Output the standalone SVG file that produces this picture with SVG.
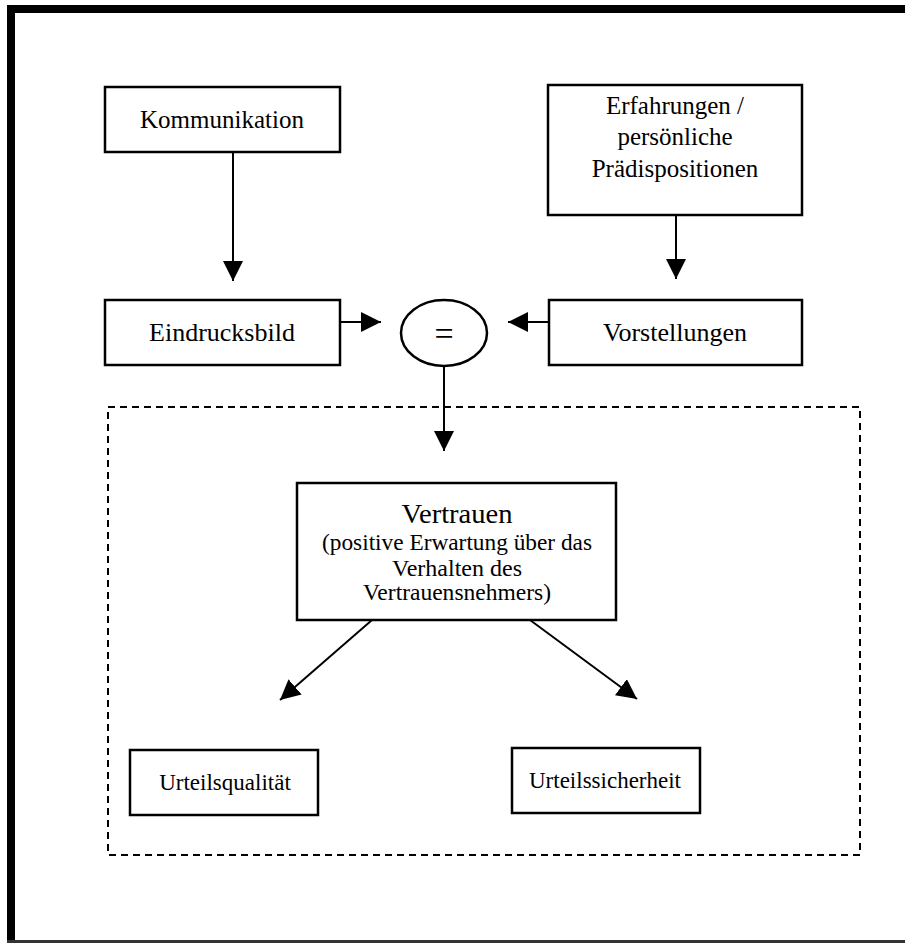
<svg xmlns="http://www.w3.org/2000/svg" width="905" height="945" viewBox="0 0 905 945">
  <style>
    .box { fill: #fff; stroke: #000; stroke-width: 2.5; }
    .lbl { font-family: "Liberation Serif", "Times New Roman", serif; font-size: 25px; fill: #000; text-anchor: middle; }
    .md { font-size: 26px; }
    .sm { font-size: 24px; }
    .xs { font-size: 23px; }
    .lg { font-size: 27px; }
    .eq { font-size: 34px; }
    .edge { stroke: #000; stroke-width: 2; fill: none; marker-end: url(#arrow); }
    .dash { fill: none; stroke: #000; stroke-width: 2; stroke-dasharray: 7 5; }
  </style>
  <defs>
    <marker id="arrow" viewBox="0 0 10 10" refX="10" refY="5" markerWidth="20" markerHeight="20" markerUnits="userSpaceOnUse" orient="auto">
      <path d="M0,0 L10,5 L0,10 z" fill="#000"/>
    </marker>
  </defs>
  <rect width="905" height="945" fill="#fff"/>
  <!-- frame -->
  <rect x="7" y="5" width="898" height="8" fill="#000"/>
  <rect x="7" y="5" width="8" height="938" fill="#000"/>
  <rect x="7" y="940" width="898" height="3" fill="#333"/>

  <!-- dashed region -->
  <rect class="dash" x="108" y="407" width="752" height="448"/>

  <g id="connectors">
    <line class="edge" x1="233" y1="152" x2="233" y2="281"/>
    <line class="edge" x1="676" y1="215" x2="676" y2="279"/>
    <line class="edge" x1="340" y1="322" x2="381" y2="322"/>
    <line class="edge" x1="549" y1="322" x2="508" y2="322"/>
    <line class="edge" x1="444" y1="366" x2="444" y2="451"/>
    <line class="edge" x1="372" y1="620" x2="280" y2="700"/>
    <line class="edge" x1="530" y1="620" x2="637" y2="699"/>
  </g>

  <g id="kommunikation">
    <rect class="box" x="105" y="87" width="235" height="65"/>
    <text class="lbl" x="222" y="128">Kommunikation</text>
  </g>
  <g id="erfahrungen">
    <rect class="box" x="548" y="85" width="254" height="130"/>
    <text class="lbl" x="675" y="114">Erfahrungen /</text>
    <text class="lbl" x="675" y="145">persönliche</text>
    <text class="lbl" x="675" y="177">Prädispositionen</text>
  </g>
  <g id="eindrucksbild">
    <rect class="box" x="105" y="300" width="235" height="65"/>
    <text class="lbl md" x="222" y="341">Eindrucksbild</text>
  </g>
  <g id="gleich">
    <ellipse class="box" cx="444" cy="333" rx="43" ry="33"/>
    <text class="lbl eq" x="444" y="345">=</text>
  </g>
  <g id="vorstellungen">
    <rect class="box" x="549" y="300" width="253" height="65"/>
    <text class="lbl md" x="675" y="341">Vorstellungen</text>
  </g>
  <g id="vertrauen">
    <rect class="box" x="297" y="483" width="319" height="137"/>
    <text class="lbl lg" x="457" y="523" textLength="111" lengthAdjust="spacingAndGlyphs">Vertrauen</text>
    <text class="lbl sm" x="457" y="550" textLength="270" lengthAdjust="spacingAndGlyphs">(positive Erwartung über das</text>
    <text class="lbl sm" x="457" y="576" textLength="130" lengthAdjust="spacingAndGlyphs">Verhalten des</text>
    <text class="lbl sm" x="457" y="600" textLength="188" lengthAdjust="spacingAndGlyphs">Vertrauensnehmers)</text>
  </g>
  <g id="urteilsqualitaet">
    <rect class="box" x="130" y="750" width="188" height="65"/>
    <text class="lbl xs" x="225" y="790">Urteilsqualität</text>
  </g>
  <g id="urteilssicherheit">
    <rect class="box" x="512" y="748" width="188" height="65"/>
    <text class="lbl xs" x="605" y="788">Urteilssicherheit</text>
  </g>
</svg>
